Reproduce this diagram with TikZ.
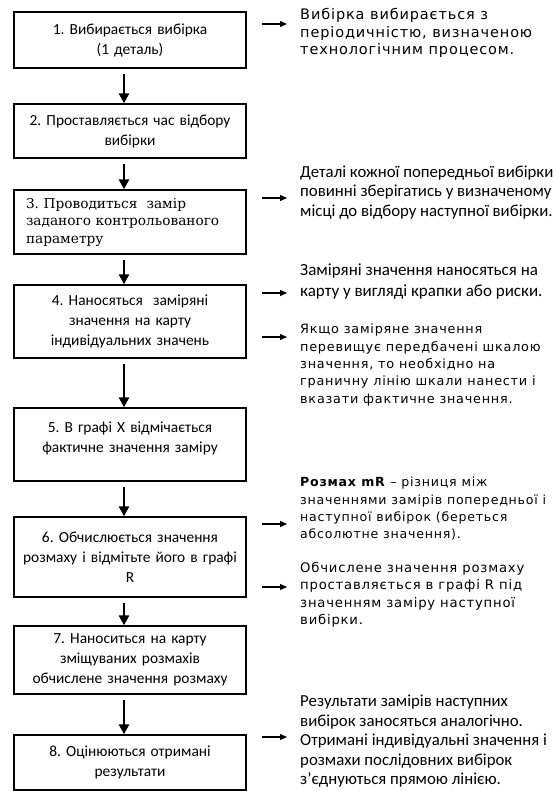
\documentclass[tikz,border=0pt]{standalone}
\usepackage{fontspec}
\setmainfont{Carlito}
\newfontfamily\verd[LetterSpace=6]{DejaVu Sans}
\newfontfamily\serf{DejaVu Serif}
\usetikzlibrary{arrows.meta}
\frenchspacing

\begin{document}
\begin{tikzpicture}[x=1pt,y=-1pt,
  box/.style={draw, line width=1.3pt, minimum width=232pt, text width=216pt,
    align=center, inner sep=0pt, font=\fontsize{15.4}{20}\selectfont},
  flow/.style={line width=2.8pt, -{Triangle[length=10pt,width=10pt]}, shorten <=5pt},
  side/.style={line width=1.2pt, -{Triangle[length=7pt,width=6pt]}, shorten >=13pt},
  note/.style={anchor=north west, inner sep=0pt, align=left},
  vnote/.style={note, font=\verd\fontsize{#1}{17.3}\selectfont},
  cnote/.style={note, font=\fontsize{16.8}{19.5}\selectfont}]
\useasboundingbox (0,0) rectangle (557,791);

% steps
\node[box, minimum height=56pt](b1) at (130,40){1. Вибирається вибірка\\(1 деталь)};
\node[box, minimum height=54pt](b2) at (130,131){2. Проставляється час відбору\\вибірки};
\node[box, minimum height=64pt, text width=208pt, align=left, font=\serf\fontsize{13.7}{17.5}\selectfont](b3) at (130,222){3. Проводиться \ замір\\заданого контрольованого\\параметру};
\node[box, minimum height=73pt](b4) at (130,321.5){4. Наносяться \ заміряні\\значення на карту\\індивідуальних значень};
\node[box, minimum height=73pt, text depth=35pt](b5) at (130,444.5){5. В графі Х відмічається\\фактичне значення заміру};
\node[box, minimum height=80pt](b6) at (130,557){6. Обчислюється значення\\розмаху і відмітьте його в графі\\R};
\node[box, minimum height=68pt](b7) at (130,660){7. Наноситься на карту\\зміщуваних розмахів\\обчислене значення розмаху};
\node[box, minimum height=55pt](b8) at (130,762.5){8. Оцінюються отримані\\результати};

\draw[flow] ([xshift=-6pt]b1.south) -- ([xshift=-6pt]b2.north);
\draw[flow] ([xshift=-6pt]b2.south) -- ([xshift=-6pt]b3.north);
\draw[flow] ([xshift=-6pt]b3.south) -- ([xshift=-6pt]b4.north);
\draw[flow] ([xshift=-6pt]b4.south) -- ([xshift=-6pt]b5.north);
\draw[flow] ([xshift=-6pt]b5.south) -- ([xshift=-6pt]b6.north);
\draw[flow] ([xshift=-6pt]b6.south) -- ([xshift=-6pt]b7.north);
\draw[flow] ([xshift=-6pt]b7.south) -- ([xshift=-6pt]b8.north);

% notes
\node[vnote=14.5](t1) at (300,8.5){Вибірка вибирається з\\періодичністю, визначеною\\технологічним процесом.};
\node[cnote](t2) at (300,165.5){Деталі кожної попередньої вибірки\\повинні зберігатись у визначеному\\місці до відбору наступної вибірки.};
\node[cnote, font=\fontsize{17}{21}\selectfont](t3) at (300,264){Заміряні значення наносяться на\\карту у вигляді крапки або риски.};
\node[vnote=12.8](t4) at (300,324){Якщо заміряне значення\\перевищує передбачені шкалою\\значення, то необхідно на\\граничну лінію шкали нанести і\\вказати фактичне значення.};
\node[vnote=12.6](t5) at (300,477){\textbf{Розмах mR} – різниця між\\значеннями замірів попередньої і\\наступної вибірок (береться\\абсолютне значення).};
\node[vnote=13.2](t6) at (300,562){Обчислене значення розмаху\\проставляється в графі R під\\значенням заміру наступної\\вибірки.};
\node[cnote](t7) at (300,695){Результати замірів наступних\\вибірок заносяться аналогічно.\\Отримані індивідуальні значення і\\розмахи послідовних вибірок\\з’єднуються прямою лінією.};

\coordinate (s1) at (262,24);
\coordinate (s2) at (262,198);
\coordinate (s3) at (262,293);
\coordinate (s4) at (262,337);
\coordinate (s5) at (262,524);
\coordinate (s6) at (262,587);
\coordinate (s7) at (262,737);
\draw[side] (s1) -- (s1 -| t1.west);
\draw[side] (s2) -- (s2 -| t2.west);
\draw[side] (s3) -- (s3 -| t3.west);
\draw[side] (s4) -- (s4 -| t4.west);
\draw[side] (s5) -- (s5 -| t5.west);
\draw[side] (s6) -- (s6 -| t6.west);
\draw[side] (s7) -- (s7 -| t7.west);
\end{tikzpicture}
\end{document}
